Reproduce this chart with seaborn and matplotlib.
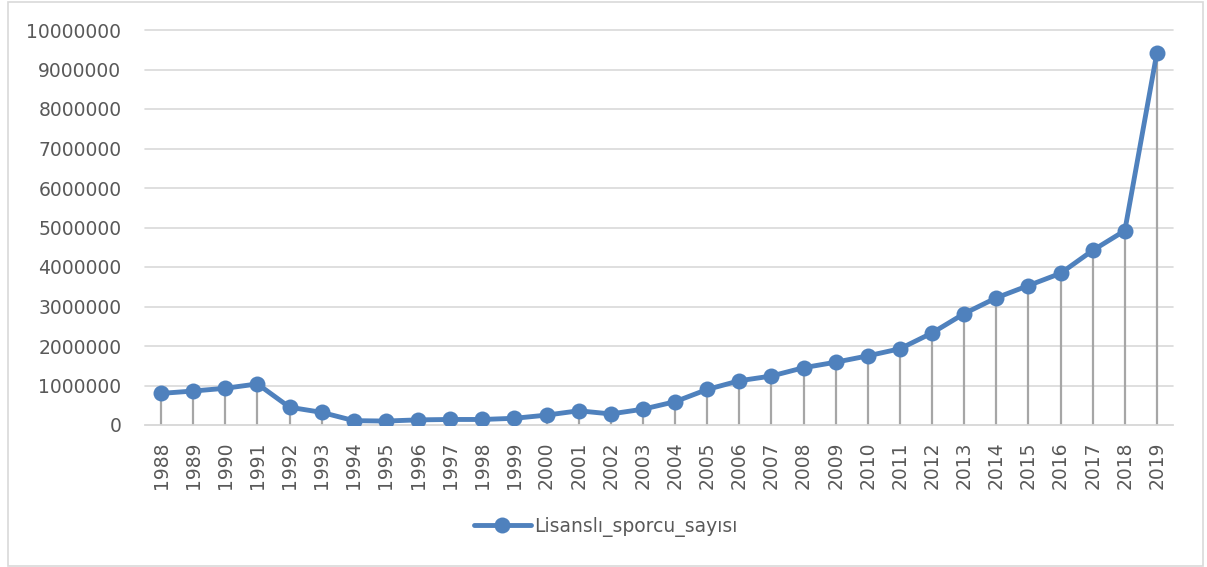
import pandas as pd
import matplotlib.pyplot as plt
import seaborn as sns
from matplotlib.patches import Rectangle

# veriler (grafikten okunan yaklaşık değerler)
years = list(range(1988, 2020))
sporcu = [800000, 860000, 930000, 1040000, 450000, 320000, 110000, 100000,
          130000, 140000, 140000, 170000, 250000, 360000, 280000, 400000,
          590000, 900000, 1120000, 1240000, 1450000, 1590000, 1750000, 1930000,
          2330000, 2820000, 3220000, 3530000, 3840000, 4420000, 4920000, 9430000]
series_name = 'Lisanslı_sporcu_sayısı'

df = pd.DataFrame({'Yil': years, series_name: sporcu})

sns.set_theme(style="white")
plt.rcParams['font.family'] = ['DejaVu Sans']

line_color = '#4F81BD'
text_color = '#595959'
grid_color = '#D9D9D9'

fig = plt.figure(figsize=(12.07, 5.67), dpi=100)
ax = fig.add_axes([145 / 1207, 1 - 425 / 567, (1173 - 145) / 1207, (425 - 30) / 567])

# dış çerçeve
fig.patches.append(Rectangle((8 / 1207, 1 - 566 / 567), (1203 - 8) / 1207, (566 - 2) / 567,
                             transform=fig.transFigure, fill=False,
                             edgecolor=grid_color, linewidth=1.2))

# yatay ızgara çizgileri
ax.set_ylim(0, 10000000)
ax.set_yticks(range(0, 10000001, 1000000))
ax.yaxis.grid(True, color=grid_color, linewidth=1.2)
ax.set_axisbelow(True)

# düşey düşüş çizgileri
ax.vlines(df['Yil'], 0, df[series_name], color='#A6A6A6', linewidth=1.6, zorder=2)

sns.lineplot(data=df, x='Yil', y=series_name, ax=ax, color=line_color,
             linewidth=3.5, marker='o', markersize=11.5, markeredgewidth=0,
             label=series_name, zorder=3)

ax.set_xlim(years[0] - 0.5, years[-1] + 0.5)
ax.set_xticks(years)
ax.set_xticklabels([str(y) for y in years], rotation=90)
ax.set_yticklabels([str(v) for v in range(0, 10000001, 1000000)])
ax.tick_params(axis='both', length=0, labelsize=13.5, labelcolor=text_color)
ax.tick_params(axis='y', pad=17)
ax.tick_params(axis='x', pad=12)
ax.set_xlabel('')
ax.set_ylabel('')

for gl in ax.yaxis.get_gridlines():
    gl.set_clip_on(False)

for side in ['top', 'right', 'left']:
    ax.spines[side].set_visible(False)
ax.spines['bottom'].set_color(grid_color)
ax.spines['bottom'].set_linewidth(1.2)

ax.legend().remove()
handles, labels = ax.get_legend_handles_labels()
fig.legend(handles, labels, loc='center', bbox_to_anchor=(606 / 1207, 1 - 527 / 567),
           frameon=False, fontsize=13.5, labelcolor=text_color,
           handlelength=3.0, handletextpad=0.2)

plt.savefig('out.png', dpi=100)
